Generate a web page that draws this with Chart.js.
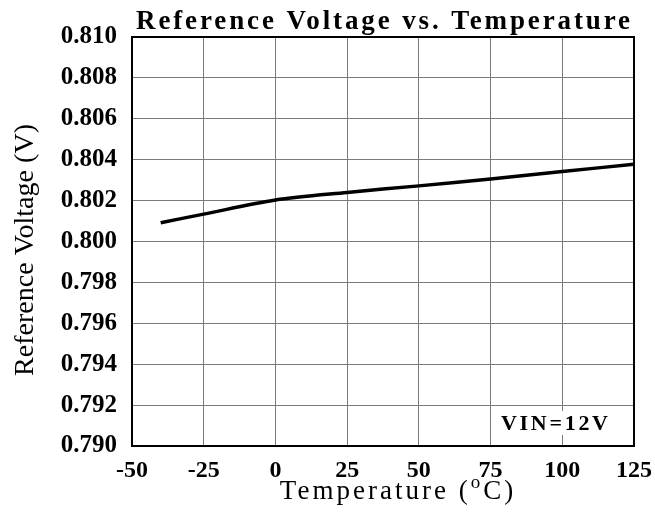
<!DOCTYPE html>
<html><head><meta charset="utf-8">
<script src="https://cdn.jsdelivr.net/npm/chart.js@4"></script>
<style>html,body{margin:0;padding:0;background:#fff}#wrap{width:655px;height:515px}</style>
</head><body><div id="wrap"><canvas id="c" width="655" height="515"></canvas></div>
<script>
const temperatures = [-40, -25, 0, 25, 50, 75, 100, 125];
const refVoltage = [0.80092, 0.80134, 0.80203, 0.80240, 0.80272, 0.80306, 0.80342, 0.80378];
const xTicks = [-50, -25, 0, 25, 50, 75, 100, 125];
const yMin = 0.790, yMax = 0.810, yStep = 0.002;
const titleText = 'Reference Voltage vs. Temperature';
const xTitleMain = 'Temperature (';
const xTitleSup = 'o';
const xTitleEnd = 'C)';
const yTitleText = 'Reference Voltage (V)';
const noteText = 'VIN=12V';

const serif = '"Liberation Serif", "Times New Roman", serif';

function spaced(ctx, text, target) {
  ctx.letterSpacing = '0px';
  const nat = ctx.measureText(text).width;
  return Math.max(0, (target - nat) / (text.length - 1));
}

const overlay = {
  id: 'overlay',
  afterDatasetsDraw(chart) {
    const ctx = chart.ctx, a = chart.chartArea;
    ctx.save();
    // note box
    ctx.font = 'bold 22px ' + serif;
    let ls = spaced(ctx, noteText, 107);
    ctx.letterSpacing = ls + 'px';
    ctx.fillStyle = '#fff';
    ctx.fillRect(a.right - 134, a.bottom - 35, 130, 24);
    ctx.fillStyle = '#000';
    ctx.textAlign = 'left';
    ctx.textBaseline = 'alphabetic';
    ctx.fillText(noteText, a.right - 133, a.bottom - 16);
    // border
    ctx.letterSpacing = '0px';
    ctx.strokeStyle = '#000';
    ctx.lineWidth = 2;
    ctx.strokeRect(a.left, a.top, a.right - a.left, a.bottom - a.top);
    // title
    ctx.font = 'bold 27px ' + serif;
    ls = spaced(ctx, titleText, 494);
    ctx.letterSpacing = ls + 'px';
    ctx.textAlign = 'left';
    ctx.fillText(titleText, (a.left + a.right) / 2 - 247, 29);
    // x title with superscript
    ctx.font = '27px ' + serif;
    ctx.letterSpacing = '3px';
    const w1 = ctx.measureText(xTitleMain).width;
    ctx.font = '19px ' + serif;
    const w2 = ctx.measureText(xTitleSup).width;
    ctx.font = '27px ' + serif;
    const w3 = ctx.measureText(xTitleEnd).width;
    const total = w1 + w2 + w3;
    let x0 = (a.left + a.right) / 2 + 15 - total / 2;
    const base = 499;
    ctx.fillText(xTitleMain, x0, base);
    ctx.font = '19px ' + serif;
    ctx.fillText(xTitleSup, x0 + w1, base - 11);
    ctx.font = '27px ' + serif;
    ctx.fillText(xTitleEnd, x0 + w1 + w2, base);
    // y title rotated
    ctx.font = '28px ' + serif;
    ls = spaced(ctx, yTitleText, 252);
    ctx.letterSpacing = ls + 'px';
    ctx.translate(33, 250);
    ctx.rotate(-Math.PI / 2);
    ctx.textAlign = 'left';
    ctx.fillText(yTitleText, -126, 0);
    ctx.restore();
  }
};

new Chart(document.getElementById('c'), {
  type: 'line',
  data: {
    datasets: [{
      data: temperatures.map((t, i) => ({x: t, y: refVoltage[i]})),
      borderColor: '#000',
      borderWidth: 3.5,
      pointRadius: 0,
      tension: 0.3,
      fill: false
    }]
  },
  options: {
    responsive: false,
    animation: false,
    layout: {padding: {top: 37, right: 21, left: 0, bottom: 0}},
    plugins: {legend: {display: false}, tooltip: {enabled: false}},
    scales: {
      x: {
        type: 'linear', min: -50, max: 125,
        afterBuildTicks(s) { s.ticks = xTicks.map(v => ({value: v})); },
        afterFit(s) { s.height = 69; s.paddingRight = 0; s.paddingLeft = 0; },
        grid: {color: '#7a7a7a', lineWidth: 1, drawTicks: false},
        border: {display: false},
        ticks: {color: '#000', padding: 10, maxRotation: 0, autoSkip: false,
          font: {family: serif, size: 24, weight: 'bold'}},
        title: {display: false}
      },
      y: {
        min: yMin, max: yMax,
        afterBuildTicks(s) {
          const t = [];
          for (let i = 0; i <= Math.round((yMax - yMin) / yStep); i++) t.push({value: +(yMin + i * yStep).toFixed(3)});
          s.ticks = t;
        },
        afterFit(s) { s.width = 132; s.paddingTop = 0; s.paddingBottom = 0; },
        grid: {color: '#7a7a7a', lineWidth: 1, drawTicks: false},
        border: {display: false},
        ticks: {color: '#000', padding: 15, autoSkip: false,
          callback: v => v.toFixed(3),
          font: {family: serif, size: 25, weight: 'bold'}},
        title: {display: false}
      }
    }
  },
  plugins: [overlay]
});
</script></body></html>
